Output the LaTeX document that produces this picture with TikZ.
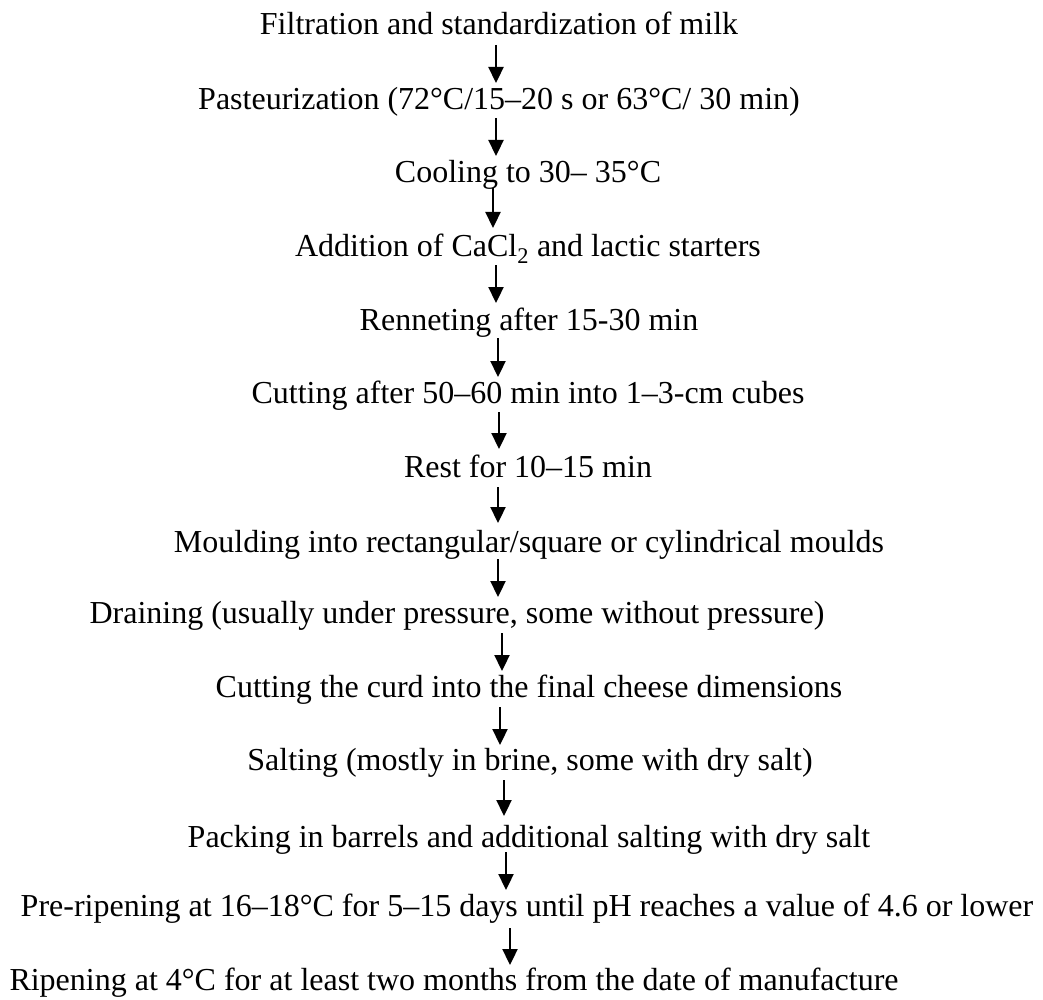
\documentclass[tikz,border=0pt]{standalone}
\usepackage{fontspec}
\setmainfont{Liberation Serif}
\usetikzlibrary{arrows.meta}
\begin{document}
\begin{tikzpicture}[x=1pt,y=-1pt,
  steptext/.style={inner sep=0pt,anchor=base,font=\fontsize{32}{38}\selectfont},
  flowarrow/.style={line width=2.3pt,-{Triangle[width=15pt,length=16pt]}}]
\useasboundingbox (0,0) rectangle (1043,1000);
\node[steptext] (n1)  at (499,35)  {Filtration and standardization of milk};
\node[steptext] (n2)  at (499,110) {Pasteurization (72°C/15–20 s or 63°C/ 30 min)};
\node[steptext] (n3)  at (528,183) {Cooling to 30– 35°C};
\node[steptext] (n4)  at (528,257) {Addition of CaCl\textsubscript{2} and lactic starters};
\node[steptext] (n5)  at (529,330) {Renneting after 15-30 min};
\node[steptext] (n6)  at (528,403) {Cutting after 50–60 min into 1–3-cm cubes};
\node[steptext] (n7)  at (528,477) {Rest for 10–15 min};
\node[steptext] (n8)  at (529,552) {Moulding into rectangular/square or cylindrical moulds};
\node[steptext] (n9)  at (457,623) {Draining (usually under pressure, some without pressure)};
\node[steptext] (n10) at (529,697) {Cutting the curd into the final cheese dimensions};
\node[steptext] (n11) at (530,770) {Salting (mostly in brine, some with dry salt)};
\node[steptext] (n12) at (529,847) {Packing in barrels and additional salting with dry salt};
\node[steptext] (n13) at (527,916) {Pre-ripening at 16–18°C for 5–15 days until pH reaches a value of 4.6 or lower};
\node[steptext] (n14) at (454,990) {Ripening at 4°C for at least two months from the date of manufacture};
\coordinate (a1s) at (496,45);   \coordinate (a1e) at (496,83);
\coordinate (a2s) at (496,118);  \coordinate (a2e) at (496,156);
\coordinate (a3s) at (493,188);  \coordinate (a3e) at (493,228);
\coordinate (a4s) at (496,265);  \coordinate (a4e) at (496,303);
\coordinate (a5s) at (498,338);  \coordinate (a5e) at (498,377);
\coordinate (a6s) at (499,412);  \coordinate (a6e) at (499,449);
\coordinate (a7s) at (498,487);  \coordinate (a7e) at (498,523);
\coordinate (a8s) at (498,559);  \coordinate (a8e) at (498,597);
\coordinate (a9s) at (502,633);  \coordinate (a9e) at (502,671);
\coordinate (a10s) at (500,707); \coordinate (a10e) at (500,745);
\coordinate (a11s) at (504,780); \coordinate (a11e) at (504,816);
\coordinate (a12s) at (506,852); \coordinate (a12e) at (506,890);
\coordinate (a13s) at (510,928); \coordinate (a13e) at (510,965);
\foreach \i in {1,...,13} {\draw[flowarrow] (a\i s) -- (a\i e);}
\end{tikzpicture}
\end{document}
